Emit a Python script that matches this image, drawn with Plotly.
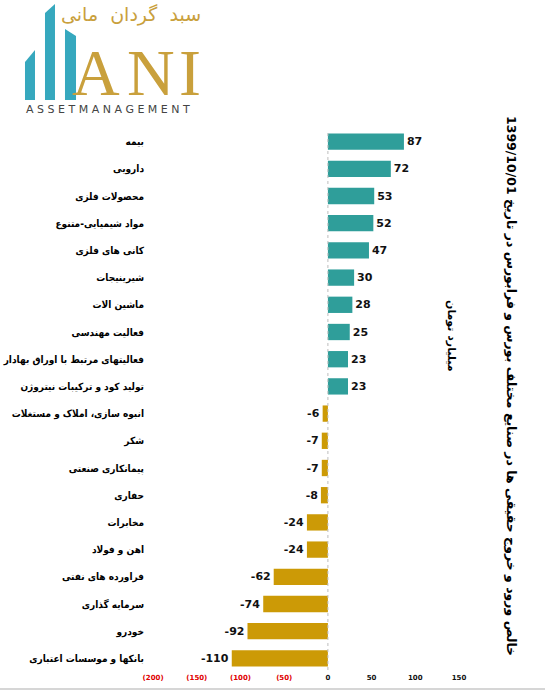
import plotly.graph_objects as go

# net real-investor flow by industry (billion toman), 1399/10/01
sectors = [
    'بیمه', 'دارویی', 'محصولات فلزی', 'مواد شیمیایی-متنوع', 'کانی های فلزی',
    'شیرینیجات', 'ماشین الات', 'فعالیت مهندسی', 'فعالیتهای مرتبط با اوراق بهادار',
    'تولید کود و ترکیبات نیتروژن', 'انبوه سازی، املاک و مستغلات', 'شکر',
    'پیمانکاری صنعتی', 'حفاری', 'مخابرات', 'اهن و فولاد', 'فراورده های نفتی',
    'سرمایه گذاری', 'خودرو', 'بانکها و موسسات اعتباری',
]
values = [87, 72, 53, 52, 47, 30, 28, 25, 23, 23, -6, -7, -7, -8, -24, -24, -62, -74, -92, -110]

tick_vals = [-200, -150, -100, -50, 0, 50, 100, 150]
tick_text = ['(200)', '(150)', '(100)', '(50)', '0', '50', '100', '150']

TEAL = '#2f9e9a'
GOLD = '#cc9a06'
LOGO_TEAL = '#36a8be'
LOGO_GOLD = '#c9a03c'

W, H = 545, 691
L, R, T, B = 140, 75, 128, 19
PW, PH = W - L - R, H - T - B


def px(x):
    return (x - L) / PW


def py(y):
    return (H - B - y) / PH


colors = [TEAL if v >= 0 else GOLD for v in values]
# LRM keeps the minus sign in front of the number
labels = ['\u200e%d' % v for v in values]

fig = go.Figure()
fig.add_trace(go.Bar(
    x=values, y=sectors, orientation='h',
    marker=dict(color=colors, line_width=0),
    text=labels, textposition='outside', cliponaxis=False,
    textfont=dict(family='DejaVu Sans', size=11, color='#111', weight='bold'),
    hoverinfo='skip',
))

ticks = []
for v, t in zip(tick_vals, tick_text):
    if v < 0:
        ticks.append('<span style="color:#e00000">%s</span>' % t)
    else:
        ticks.append(t)

# dashed zero line
shapes = [dict(type='line', xref='x', yref='paper', x0=0, x1=0, y0=py(670), y1=py(130),
               line=dict(color='#bdbdbd', width=1, dash='dot'))]
# bottom border
shapes.append(dict(type='line', xref='paper', yref='paper', x0=px(0), x1=px(W),
                   y0=py(689), y1=py(689), line=dict(color='#d6d6d6', width=2)))

# logo bars
logo_bars = [
    [(25, 100), (25, 62), (35, 50), (35, 100)],
    [(45, 100), (45, 13), (55, 4), (55, 100)],
    [(65, 100), (65, 29), (76, 36), (76, 100)],
]
for pts in logo_bars:
    path = 'M ' + ' L '.join('%.4f %.4f' % (px(a), py(b)) for a, b in pts) + ' Z'
    shapes.append(dict(type='path', xref='paper', yref='paper', path=path,
                       fillcolor=LOGO_TEAL, line_width=0))

annotations = []
for ch, cx in [('A', 96), ('N', 151), ('I', 190)]:
    annotations.append(dict(text=ch, xref='paper', yref='paper', x=px(cx), y=py(100),
                            xanchor='center', yanchor='bottom', showarrow=False,
                            font=dict(family='Liberation Serif', size=66, color=LOGO_GOLD),
                            yshift=-11))
annotations.append(dict(text='سبد  گردان  مانی', xref='paper', yref='paper',
                        x=px(131), y=py(15), xanchor='center', yanchor='middle',
                        showarrow=False,
                        font=dict(family='DejaVu Sans', size=19, color=LOGO_GOLD)))
annotations.append(dict(text=' '.join('ASSETMANAGEMENT'), xref='paper', yref='paper',
                        x=px(108), y=py(109), xanchor='center', yanchor='middle',
                        showarrow=False,
                        font=dict(family='DejaVu Sans', size=11, color='#444')))

title = '\u202bخالص ورود و خروج حقیقی ها در صنایع مختلف بورس و فرابورس در تاریخ 1399/10/01\u202c'
annotations.append(dict(text=title, xref='paper', yref='paper', x=px(512), y=py(386),
                        xanchor='center', yanchor='middle', textangle=90, showarrow=False,
                        font=dict(family='DejaVu Sans', size=12.5, color='#000', weight='bold')))
annotations.append(dict(text='میلیارد تومان', xref='paper', yref='paper', x=px(452), y=py(336),
                        xanchor='center', yanchor='middle', textangle=90, showarrow=False,
                        font=dict(family='DejaVu Sans', size=11, color='#000', weight='bold')))

fig.update_layout(
    width=W, height=H,
    margin=dict(l=L, r=R, t=T, b=B, autoexpand=False),
    paper_bgcolor='white', plot_bgcolor='white',
    showlegend=False, bargap=0.4,
    shapes=shapes, annotations=annotations,
    xaxis=dict(range=[-215, 162.6], tickvals=tick_vals, ticktext=ticks,
               showgrid=False, zeroline=False, showline=False, ticks='',
               tickfont=dict(family='DejaVu Sans', size=7, color='#111', weight='bold'),
               automargin=False, fixedrange=True),
    yaxis=dict(autorange='reversed', anchor='free', position=px(144), side='left',
               showgrid=False, zeroline=False, showline=False, ticks='',
               tickfont=dict(family='DejaVu Sans Condensed, DejaVu Sans', size=10,
                             color='#000', weight='bold'),
               automargin=False, fixedrange=True),
)

fig.write_html('out.html', config={'displayModeBar': False},
               post_script="document.body.style.margin='0';")
